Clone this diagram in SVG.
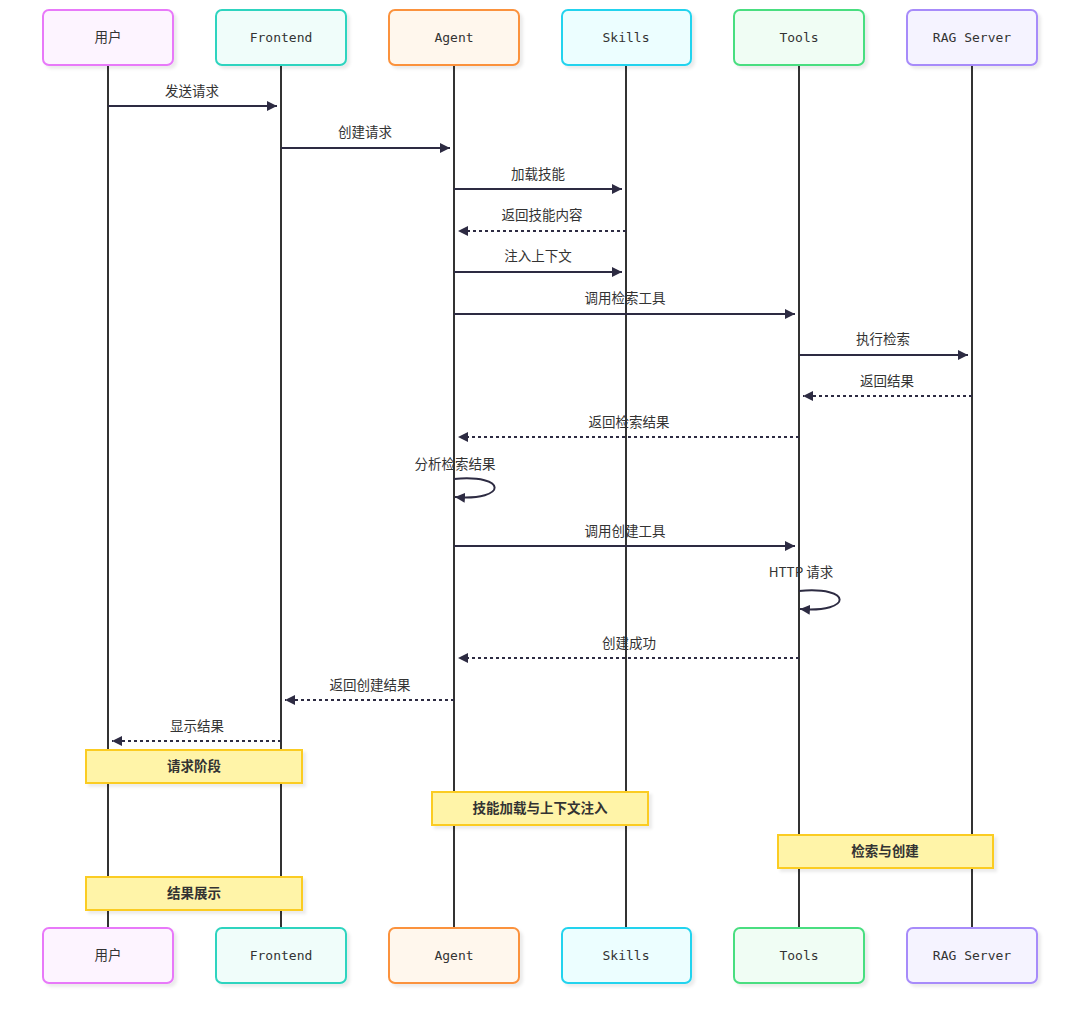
<svg xmlns="http://www.w3.org/2000/svg" width="1080" height="1020" viewBox="0 0 1080 1020">
<defs>
<marker id="ah" viewBox="0 0 10 10" refX="10" refY="5" markerWidth="10" markerHeight="10" markerUnits="userSpaceOnUse" orient="auto">
<path d="M0,0 L10,5 L0,10 z" fill="#2d2b42"/>
</marker>
<filter id="sh" x="-10%" y="-10%" width="130%" height="140%">
<feDropShadow dx="3" dy="3" stdDeviation="1.5" flood-color="#000" flood-opacity="0.08"/>
</filter>
</defs>
<style>
.box{stroke-width:2;filter:url(#sh)}
.plabel{font-family:"DejaVu Sans Mono","Liberation Mono",monospace;font-size:13px;fill:#333;text-anchor:middle}
.life{stroke:#333;stroke-width:2}
.msg{stroke:#2d2b42;stroke-width:2;fill:none;marker-end:url(#ah)}
.dash{stroke-dasharray:3,3}
.mtext{font-family:"Noto Sans CJK SC","Noto Sans",sans-serif;font-size:13.5px;fill:#333;text-anchor:middle}
.note rect{fill:#fff4a8;stroke:#fbcc22;stroke-width:2;filter:url(#sh)}
.note text{font-family:"Noto Sans CJK SC","Noto Sans",sans-serif;font-size:13.5px;font-weight:bold;fill:#333;text-anchor:middle}
</style>
<rect width="1080" height="1020" fill="#fff"/>
<g id="lifelines">
<line class="life" x1="108" y1="65" x2="108" y2="928"/>
<line class="life" x1="281" y1="65" x2="281" y2="928"/>
<line class="life" x1="454" y1="65" x2="454" y2="928"/>
<line class="life" x1="626" y1="65" x2="626" y2="928"/>
<line class="life" x1="799" y1="65" x2="799" y2="928"/>
<line class="life" x1="972" y1="65" x2="972" y2="928"/>
</g>
<g id="user">
<rect class="box" x="43" y="10" width="130" height="55" rx="6" fill="#fdf4ff" stroke="#e879f9"/>
<text class="plabel" x="108" y="42" style="font-family:'Noto Sans CJK SC',sans-serif;font-size:13.5px">用户</text>
<rect class="box" x="43" y="928" width="130" height="55" rx="6" fill="#fdf4ff" stroke="#e879f9"/>
<text class="plabel" x="108" y="960" style="font-family:'Noto Sans CJK SC',sans-serif;font-size:13.5px">用户</text>
</g>
<g id="frontend">
<rect class="box" x="216" y="10" width="130" height="55" rx="6" fill="#f0fdfa" stroke="#2dd4bf"/>
<text class="plabel" x="281" y="42">Frontend</text>
<rect class="box" x="216" y="928" width="130" height="55" rx="6" fill="#f0fdfa" stroke="#2dd4bf"/>
<text class="plabel" x="281" y="960">Frontend</text>
</g>
<g id="agent">
<rect class="box" x="389" y="10" width="130" height="55" rx="6" fill="#fff7ed" stroke="#fb923c"/>
<text class="plabel" x="454" y="42">Agent</text>
<rect class="box" x="389" y="928" width="130" height="55" rx="6" fill="#fff7ed" stroke="#fb923c"/>
<text class="plabel" x="454" y="960">Agent</text>
</g>
<g id="skills">
<rect class="box" x="562" y="10" width="129" height="55" rx="6" fill="#ecfeff" stroke="#22d3ee"/>
<text class="plabel" x="626" y="42">Skills</text>
<rect class="box" x="562" y="928" width="129" height="55" rx="6" fill="#ecfeff" stroke="#22d3ee"/>
<text class="plabel" x="626" y="960">Skills</text>
</g>
<g id="tools">
<rect class="box" x="734" y="10" width="130" height="55" rx="6" fill="#f0fdf4" stroke="#4ade80"/>
<text class="plabel" x="799" y="42">Tools</text>
<rect class="box" x="734" y="928" width="130" height="55" rx="6" fill="#f0fdf4" stroke="#4ade80"/>
<text class="plabel" x="799" y="960">Tools</text>
</g>
<g id="rag">
<rect class="box" x="907" y="10" width="130" height="55" rx="6" fill="#f5f3ff" stroke="#a78bfa"/>
<text class="plabel" x="972" y="42">RAG Server</text>
<rect class="box" x="907" y="928" width="130" height="55" rx="6" fill="#f5f3ff" stroke="#a78bfa"/>
<text class="plabel" x="972" y="960">RAG Server</text>
</g>
<g id="connectors">
<line class="msg" x1="108" y1="106" x2="277" y2="106"/>
<text class="mtext" x="192" y="96">发送请求</text>
<line class="msg" x1="281" y1="148" x2="450" y2="148"/>
<text class="mtext" x="365" y="137">创建请求</text>
<line class="msg" x1="454" y1="189" x2="622" y2="189"/>
<text class="mtext" x="538" y="179">加载技能</text>
<line class="msg dash" x1="626" y1="231" x2="458" y2="231"/>
<text class="mtext" x="542" y="220">返回技能内容</text>
<line class="msg" x1="454" y1="272" x2="622" y2="272"/>
<text class="mtext" x="538" y="261">注入上下文</text>
<line class="msg" x1="454" y1="314" x2="795" y2="314"/>
<text class="mtext" x="625" y="303">调用检索工具</text>
<line class="msg" x1="799" y1="355" x2="968" y2="355"/>
<text class="mtext" x="883" y="344">执行检索</text>
<line class="msg dash" x1="972" y1="396" x2="803" y2="396"/>
<text class="mtext" x="887" y="386">返回结果</text>
<line class="msg dash" x1="799" y1="437" x2="458" y2="437"/>
<text class="mtext" x="629" y="427">返回检索结果</text>
<path class="msg" d="M454,479 C508,474 508,501 455,497"/>
<text class="mtext" x="455" y="469">分析检索结果</text>
<line class="msg" x1="454" y1="546" x2="795" y2="546"/>
<text class="mtext" x="625" y="536">调用创建工具</text>
<path class="msg" d="M799,591 C853,586 853,613 800,609"/>
<text class="mtext" x="801" y="577">HTTP 请求</text>
<line class="msg dash" x1="799" y1="658" x2="458" y2="658"/>
<text class="mtext" x="629" y="648">创建成功</text>
<line class="msg dash" x1="454" y1="700" x2="285" y2="700"/>
<text class="mtext" x="370" y="690">返回创建结果</text>
<line class="msg dash" x1="281" y1="741" x2="112" y2="741"/>
<text class="mtext" x="197" y="731">显示结果</text>
</g>
<g id="note1" class="note">
<rect x="86" y="750" width="216" height="33"/>
<text x="194" y="771">请求阶段</text>
</g>
<g id="note2" class="note">
<rect x="432" y="792" width="216" height="33"/>
<text x="540" y="813">技能加载与上下文注入</text>
</g>
<g id="note3" class="note">
<rect x="778" y="835" width="215" height="33"/>
<text x="885" y="856">检索与创建</text>
</g>
<g id="note4" class="note">
<rect x="86" y="877" width="216" height="33"/>
<text x="194" y="898">结果展示</text>
</g>
</svg>
